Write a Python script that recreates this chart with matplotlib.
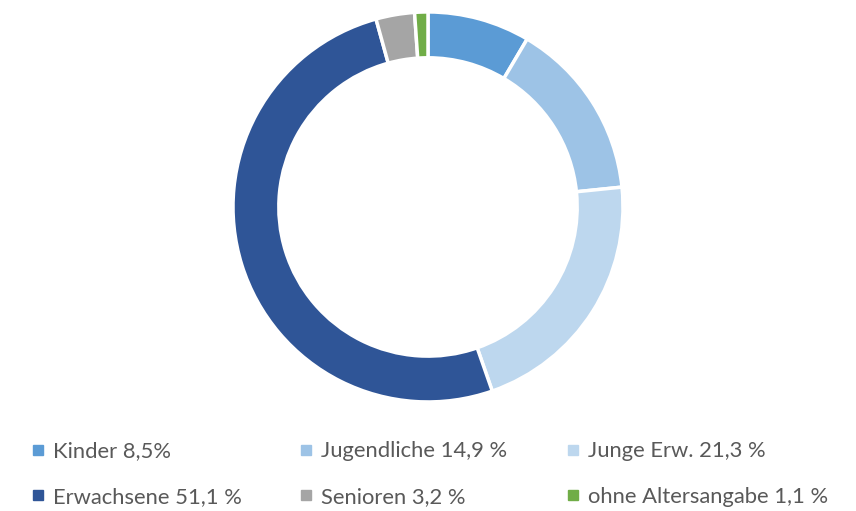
import matplotlib.pyplot as plt
from matplotlib.lines import Line2D

labels = ['Kinder 8,5%', 'Jugendliche 14,9 %', 'Junge Erw. 21,3 %',
          'Erwachsene 51,1 %', 'Senioren 3,2 %', 'ohne Altersangabe 1,1 %']
values = [8.5, 14.9, 21.3, 51.1, 3.2, 1.1]
colors = ['#5B9BD5', '#9DC3E6', '#BDD7EE', '#2F5597', '#A5A5A5', '#70AD47']

fig = plt.figure(figsize=(8.56, 5.11), dpi=100)
ax = fig.add_axes([0.2722, 0.2134, 0.4556, 0.7632])
ax.pie(values, colors=colors, startangle=90, counterclock=False,
       wedgeprops=dict(width=0.235, edgecolor='white', linewidth=2.5))
ax.set_xlim(-1, 1)
ax.set_ylim(-1, 1)
ax.set_aspect('equal')

# legend, 3 columns, placed manually so the columns line up like the original
xs = [0.038, 0.351, 0.663]
ys = [0.117, 0.028]
for i, lab in enumerate(labels):
    r, c = divmod(i, 3)
    h = Line2D([], [], marker='s', linestyle='none', markersize=7,
               markerfacecolor=colors[i], markeredgecolor=colors[i])
    leg = fig.legend([h], [lab], loc='center left', bbox_to_anchor=(xs[c], ys[r]),
                     frameon=False, handlelength=0.5, handletextpad=0.42,
                     borderaxespad=0, borderpad=0,
                     prop={'family': 'Lato', 'size': 15.8})
    for t in leg.get_texts():
        t.set_color('#595959')

fig.savefig('out.png', dpi=100)
